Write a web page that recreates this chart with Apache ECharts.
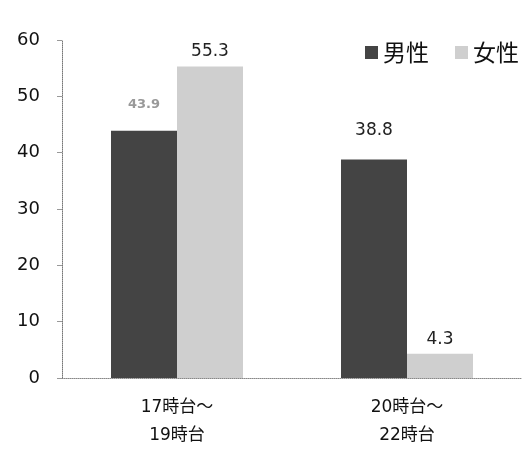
<!DOCTYPE html>
<html>
<head>
<meta charset="utf-8">
<script src="https://cdn.jsdelivr.net/npm/echarts@6/dist/echarts.min.js"></script>
<style>
    html, body { margin: 0; padding: 0; background: #fff; }
    #main { width: 524px; height: 450px; }
</style>
</head>
<body>
<div id="main"></div>
<script>
// データ
var categories = ['17時台～\n19時台', '20時台～\n22時台'];
var maleValues = [43.9, 38.8];
var femaleValues = [55.3, 4.3];
var yTicks = [0, 10, 20, 30, 40, 50, 60];

(function () {
    var myChart = echarts.init(document.getElementById('main'));
    var font = "'DejaVu Sans', sans-serif";
    var cjk = "'DejaVu Sans', 'Noto Sans CJK JP', sans-serif";

    var option = {
        animation: false,
        legend: {
            data: ['男性', '女性'],
            right: 0,
            top: 36,
            itemWidth: 13,
            itemHeight: 13,
            itemGap: 26,
            icon: 'rect',
            textStyle: {
                color: '#111',
                fontFamily: 'Noto Sans CJK JP',
                fontSize: 23
            }
        },
        grid: {
            left: 62,
            right: 2,
            top: 40,
            bottom: 72
        },
        xAxis: {
            type: 'category',
            data: categories,
            axisTick: { show: false },
            axisLine: {
                lineStyle: { color: '#888', type: 'dotted', width: 1 }
            },
            axisLabel: {
                color: '#111',
                fontFamily: cjk,
                fontSize: 17,
                lineHeight: 28,
                margin: 16
            }
        },
        yAxis: {
            type: 'value',
            min: yTicks[0],
            max: yTicks[yTicks.length - 1],
            interval: 10,
            axisLine: {
                show: true,
                lineStyle: { color: '#777', type: 'dotted', width: 1 }
            },
            axisTick: {
                show: true,
                length: 5,
                lineStyle: { color: '#999' }
            },
            splitLine: { show: false },
            axisLabel: {
                color: '#111',
                fontFamily: font,
                fontSize: 18,
                margin: 22
            }
        },
        series: [
            {
                name: '男性',
                type: 'bar',
                data: maleValues,
                barWidth: 66,
                barGap: '0%',
                itemStyle: { color: '#444444' },
                label: {
                    show: true,
                    position: 'top',
                    distance: 20,
                    fontFamily: font,
                    fontSize: 17,
                    color: '#222',
                    formatter: function (p) {
                        return p.dataIndex === 0 ? '{faint|' + p.value.toFixed(1) + '}' : p.value.toFixed(1);
                    },
                    rich: {
                        faint: { color: '#999', fontFamily: font, fontSize: 13, fontWeight: 'bold' }
                    }
                }
            },
            {
                name: '女性',
                type: 'bar',
                data: femaleValues,
                barWidth: 66,
                itemStyle: { color: '#cfcfcf' },
                label: {
                    show: true,
                    position: 'top',
                    distance: 6,
                    fontFamily: font,
                    fontSize: 17,
                    color: '#222',
                    formatter: function (p) {
                        return p.value.toFixed(1);
                    }
                }
            }
        ]
    };

    myChart.setOption(option);

    window.addEventListener('resize', function () {
        myChart.resize();
    });
})();
</script>
</body>
</html>
